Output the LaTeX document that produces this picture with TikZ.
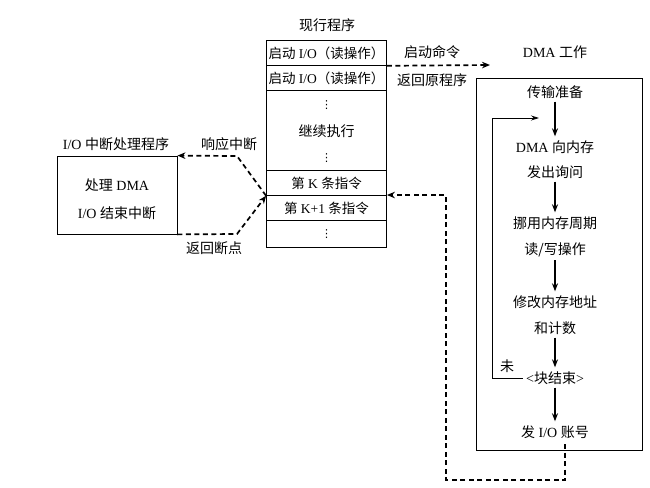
\documentclass[tikz,border=0pt]{standalone}
\usepackage{fontspec}
\setmainfont{Liberation Serif}
\newfontfamily\cjk{Noto Sans CJK SC}
\newfontfamily\dv{DejaVu Sans}
\newcommand{\zh}[1]{{\cjk #1}}
\newcommand{\vd}{{\dv\fontsize{11}{11}\selectfont ⋮}}
\usetikzlibrary{arrows.meta}
\begin{document}
\begin{tikzpicture}[x=1pt,y=-1pt,
  txt/.style={font=\fontsize{14}{16}\selectfont, inner sep=3pt},
  cell/.style={draw, line width=0.8pt, minimum width=120pt, minimum height=25pt, inner sep=0pt, anchor=north, font=\fontsize{13.5}{16}\selectfont},
  dasharrow/.style={line width=1.7pt, dash pattern=on 5pt off 3.5pt, -{Stealth[length=8pt,width=6.5pt]}},
  flow/.style={line width=1.6pt, -{Stealth[length=8pt,width=6pt]}, shorten >=1pt},
  loopline/.style={line width=0.8pt, -{Stealth[length=8pt,width=5pt]}}]
\useasboundingbox (0,0) rectangle (650,487);

% centre column
\node[txt] (title) at (327,25) {\zh{现行程序}};
\node[cell] (r1) at (326.5,40) {\zh{启动} I/O\zh{（读操作）}};
\node[cell] (r2) at (326.5,65) {\zh{启动} I/O\zh{（读操作）}};
\node[cell, minimum height=80pt] (r3) at (326.5,90) {};
\node[inner sep=0pt] (r3a) at (326.5,105) {\vd};
\node[txt] (r3b) at (326.5,131) {\zh{继续执行}};
\node[inner sep=0pt] (r3c) at (326.5,158) {\vd};
\node[cell] (r4) at (326.5,170) {\zh{第} K \zh{条指令}};
\node[cell] (r5) at (326.5,195) {\zh{第} K+1 \zh{条指令}};
\node[cell, minimum height=27pt] (r6) at (326.5,220) {\vd};

% labels near start arrow
\node[txt] (lstart) at (432,52) {\zh{启动命令}};
\node[txt] (lret) at (432,80) {\zh{返回原程序}};
\node[txt] (ldma) at (555,52) {DMA \zh{工作}};

% left box
\node[txt] (ltitle) at (116,144) {I/O \zh{中断处理程序}};
\node[draw, line width=0.8pt, minimum width=120pt, minimum height=78pt] (intbox) at (117,195) {};
\node[txt] (i1) at (117,185) {\zh{处理} DMA};
\node[txt] (i2) at (117,213) {I/O \zh{结束中断}};
\node[txt] (lresp) at (229,144) {\zh{响应中断}};
\node[txt] (lbp) at (214,248) {\zh{返回断点}};

% DMA box
\node[draw, line width=0.8pt, minimum width=166pt, minimum height=372pt] (dmabox) at (559,264) {};
\node[txt] (t1) at (555,92) {\zh{传输准备}};
\node[txt] (t2) at (555,147) {DMA \zh{向内存}};
\node[txt] (t3) at (555,172) {\zh{发出询问}};
\node[txt] (t4) at (555,223) {\zh{挪用内存周期}};
\node[txt] (t5) at (555,250) {\zh{读/写操作}};
\node[txt] (t6) at (555,302) {\zh{修改内存地址}};
\node[txt] (t7) at (555,328) {\zh{和计数}};
\node[txt] (t8) at (555,378) {<\zh{块结束}>};
\node[txt] (t9) at (555,432) {\zh{发} I/O \zh{账号}};
\node[txt] (lno) at (507,366) {\zh{未}};

\draw[flow] (t1) -- (t2);
\draw[flow] (t3) -- (t4);
\draw[flow] (t5) -- (t6);
\draw[flow] (t7) -- (t8);
\draw[flow] (t8) -- (t9);

\coordinate (loopend) at (539,118);
\draw[loopline] (t8.west) -- (492,378) -- (492,118) -- (loopend);

% dashed connectors
\coordinate (dmain) at (490,65);
\draw[dasharrow] (r1.south east) -- (dmain);

\coordinate (b1) at (237,156);
\coordinate (b2) at (237,234);
\draw[dasharrow] (r4.south west) -- (b1) -- (intbox.north east);
\draw[dasharrow] (intbox.south east) -- (b2) -- (r4.south west);

\coordinate (d0) at (565,444);
\coordinate (d1) at (565,480);
\coordinate (d2) at (446,480);
\coordinate (d3) at (446,195);
\draw[dasharrow] (d0) -- (d1) -- (d2) -- (d3) -- (r5.north east);
\end{tikzpicture}
\end{document}
